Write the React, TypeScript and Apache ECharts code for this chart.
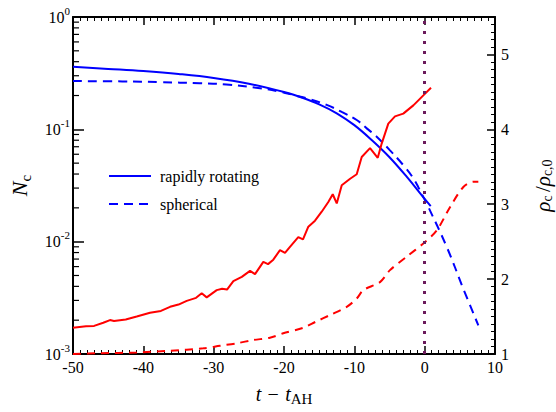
import React, { useEffect, useRef } from "react";
import * as echarts from "echarts";

// N_c (left, log axis) — [t - t_AH, N_c]
const rapidNc: [number, number][] = [
  [-50, 0.36], [-45, 0.345], [-40, 0.33], [-35, 0.311], [-30, 0.287],
  [-25, 0.255], [-20, 0.215], [-17.5, 0.192], [-15, 0.167], [-12.5, 0.139],
  [-10, 0.109], [-7.5, 0.08], [-5, 0.0565], [-2.5, 0.0375], [0, 0.024], [0.86, 0.0207],
];
const sphericalNc: [number, number][] = [
  [-50, 0.269], [-43, 0.267], [-37.6, 0.263], [-32, 0.257], [-28.2, 0.251],
  [-23.4, 0.232], [-20.5, 0.216], [-18.68, 0.202], [-16.3, 0.185], [-13.93, 0.165],
  [-11.8, 0.143], [-9.66, 0.121], [-8.24, 0.102], [-6.82, 0.086], [-4.93, 0.065],
  [-3.04, 0.048], [-1.61, 0.0366], [-0.19, 0.025], [0.28, 0.0219], [3.13, 0.009],
  [5.5, 0.0038], [7.63, 0.0018],
];

// rho_c / rho_c,0 (right, linear axis)
const rapidRho: [number, number][] = [
  [-50, 1.35], [-48.15, 1.37], [-47, 1.375], [-45.7, 1.417], [-44.74, 1.453],
  [-44.17, 1.44], [-42.5, 1.46], [-40.94, 1.5], [-39.05, 1.55], [-37.5, 1.575],
  [-36.2, 1.63], [-35, 1.66], [-33.83, 1.71], [-32.5, 1.75], [-31.7, 1.81],
  [-30.99, 1.756], [-29.57, 1.853], [-28.8, 1.87], [-28.1, 1.86], [-27.2, 1.973],
  [-26, 2.03], [-24.83, 2.11], [-24.12, 2.067], [-22.94, 2.23], [-22.27, 2.2],
  [-21.52, 2.26], [-20.57, 2.387], [-19.86, 2.35], [-19.15, 2.43], [-17.97, 2.56],
  [-17.3, 2.53], [-16.54, 2.7], [-15.59, 2.78], [-14.64, 2.9], [-13.7, 3.03],
  [-13.07, 3.133], [-12.5, 3.01], [-11.79, 3.253], [-10.6, 3.34], [-9.66, 3.4],
  [-8.95, 3.63], [-7.77, 3.75], [-6.67, 3.62], [-6.11, 3.81], [-5.17, 4.076],
  [-4.22, 4.173], [-3.04, 4.21], [-1.61, 4.32], [-0.19, 4.453], [0.9, 4.556],
];
const sphericalRho: [number, number][] = [
  [-50, 1.0], [-46.2, 1.01], [-40.94, 1.02], [-36.2, 1.044], [-31.47, 1.076],
  [-29.1, 1.11], [-26.72, 1.143], [-24.36, 1.187], [-22.0, 1.217], [-20.1, 1.276],
  [-17.25, 1.35], [-15.5, 1.43], [-13.46, 1.52], [-11.08, 1.63], [-9.66, 1.74],
  [-8.72, 1.853], [-6.35, 1.96], [-4.93, 2.12], [-2.55, 2.3], [-0.19, 2.476],
  [1.71, 2.65], [3.6, 2.96], [5.5, 3.23], [6.92, 3.3], [7.63, 3.3],
];

const xRange = [-50, 10];
const ncRange = [0.001, 1];
const rhoRange = [1, 5.5];
const decades = [0.001, 0.01, 0.1];
const minorMultipliers = [2, 3, 4, 5, 6, 7, 8, 9];

const FONT = "'Liberation Serif', 'Times New Roman', serif";
const BLUE = "#0000ff";
const RED = "#ff0000";

export default function App() {
  const ref = useRef<HTMLDivElement>(null);
  useEffect(() => {
    if (!ref.current) return;
    const chart = echarts.init(ref.current, undefined, { renderer: "svg" });
    const minorLog: [number, number][] = [];
    decades.forEach((d) => minorMultipliers.forEach((m) => minorLog.push([xRange[0], d * m])));

    const xAxisBase = {
      type: "value",
      min: xRange[0],
      max: xRange[1],
      interval: 10,
      splitLine: { show: false },
      axisLine: { show: true, onZero: false, lineStyle: { color: "#000", width: 2 } },
      axisTick: { show: true, inside: true, length: 8, lineStyle: { color: "#000", width: 1.5 } },
      minorTick: { show: true, splitNumber: 10, length: 4, lineStyle: { color: "#000", width: 1 } },
    };

    chart.setOption({
      animation: false,
      backgroundColor: "#fff",
      grid: { left: 73, right: 61, top: 17, bottom: 58, containLabel: false, outerBoundsMode: "none" },
      legend: {
        data: ["rapidly rotating", "spherical"],
        orient: "vertical",
        left: 108,
        top: 168,
        padding: 0,
        itemWidth: 42,
        itemHeight: 14,
        itemGap: 12,
        itemStyle: { opacity: 0 },
        textStyle: { fontSize: 16, fontFamily: FONT, color: "#000", padding: [0, 0, 0, 4] },
      },
      xAxis: [
        {
          ...xAxisBase,
          position: "bottom",
          axisLabel: { fontSize: 16, fontFamily: FONT, color: "#000", margin: 5 },
          name: "{i|t} {n|\u2212} {i|t}{s|AH}",
          nameLocation: "middle",
          nameGap: 27,
          nameTextStyle: {
            rich: {
              i: { fontSize: 20, fontStyle: "italic", fontFamily: FONT, color: "#000" },
              n: { fontSize: 20, fontFamily: FONT, color: "#000", padding: [0, 3, 0, 3] },
              s: { fontSize: 15, fontFamily: FONT, color: "#000", padding: [10, 0, 0, 0] },
            },
          },
        },
        { ...xAxisBase, position: "top", axisLabel: { show: false } },
      ],
      yAxis: [
        {
          type: "log",
          logBase: 10,
          min: ncRange[0],
          max: ncRange[1],
          position: "left",
          splitLine: { show: false },
          axisLine: { show: true, onZero: false, lineStyle: { color: "#000", width: 2 } },
          axisTick: { show: true, inside: true, length: 11, lineStyle: { color: "#000", width: 1.5 } },
          axisLabel: {
            margin: 3,
            formatter: (v: number) => `{b|10}{s|${Math.round(Math.log10(v))}}`,
            rich: {
              b: { fontSize: 16, fontFamily: FONT, color: "#000" },
              s: { fontSize: 11, fontFamily: FONT, color: "#000", padding: [0, 0, 13, 0] },
            },
          },
          name: "{i|N}{s|c}",
          nameLocation: "middle",
          nameRotate: 90,
          nameGap: 40,
          nameTextStyle: {
            rich: {
              i: { fontSize: 22, fontStyle: "italic", fontFamily: FONT, color: "#000" },
              s: { fontSize: 15, fontFamily: FONT, color: "#000", padding: [12, 0, 0, 0] },
            },
          },
        },
        {
          type: "value",
          min: rhoRange[0],
          max: rhoRange[1],
          interval: 1,
          position: "right",
          splitLine: { show: false },
          axisLine: { show: true, onZero: false, lineStyle: { color: "#000", width: 2 } },
          axisTick: { show: true, inside: true, length: 8, lineStyle: { color: "#000", width: 1.5 } },
          minorTick: { show: true, splitNumber: 10, length: 4, lineStyle: { color: "#000", width: 1 } },
          axisLabel: {
            margin: 6,
            fontSize: 16,
            fontFamily: FONT,
            color: "#000",
            showMaxLabel: false,
            formatter: (v: number) => (Number.isInteger(v) ? String(v) : ""),
          },
          name: "{i|\u03c1}{s|c} {n|/}{i|\u03c1}{s|c,0}",
          nameLocation: "middle",
          nameRotate: 90,
          nameGap: 37,
          nameTextStyle: {
            rich: {
              i: { fontSize: 21, fontStyle: "italic", fontFamily: FONT, color: "#000" },
              n: { fontSize: 21, fontFamily: FONT, color: "#000" },
              s: { fontSize: 14, fontFamily: FONT, color: "#000", padding: [8, 0, 0, 0] },
            },
          },
        },
      ],
      series: [
        {
          name: "rapidly rotating",
          type: "line",
          xAxisIndex: 0,
          yAxisIndex: 0,
          data: rapidNc,
          smooth: 0.4,
          symbol: "none",
          showSymbol: false,
          lineStyle: { color: BLUE, width: 2 },
          itemStyle: { color: BLUE },
          markLine: {
            silent: true,
            symbol: "none",
            label: { show: false },
            lineStyle: { color: "#6b1a5c", width: 3, type: [3, 7], cap: "butt" },
            data: [{ xAxis: 0 }],
          },
        },
        {
          name: "spherical",
          type: "line",
          xAxisIndex: 0,
          yAxisIndex: 0,
          data: sphericalNc,
          smooth: 0.4,
          symbol: "none",
          showSymbol: false,
          lineStyle: { color: BLUE, width: 2, type: [9, 6] },
          itemStyle: { color: BLUE },
        },
        {
          name: "rho rapidly rotating",
          type: "line",
          xAxisIndex: 0,
          yAxisIndex: 1,
          data: rapidRho,
          symbol: "none",
          showSymbol: false,
          lineStyle: { color: RED, width: 2 },
        },
        {
          name: "rho spherical",
          type: "line",
          xAxisIndex: 0,
          yAxisIndex: 1,
          data: sphericalRho,
          symbol: "none",
          showSymbol: false,
          smooth: 0.3,
          lineStyle: { color: RED, width: 2, type: [8, 6] },
        },
        {
          name: "log minor ticks",
          type: "custom",
          xAxisIndex: 0,
          yAxisIndex: 0,
          silent: true,
          clip: false,
          data: minorLog,
          renderItem: (_p: any, api: any) => {
            const pt = api.coord([api.value(0), api.value(1)]);
            return {
              type: "line",
              shape: { x1: pt[0], y1: pt[1], x2: pt[0] + 6, y2: pt[1] },
              style: { stroke: "#000", lineWidth: 1.2 },
            };
          },
        },
      ],
    });
    return () => chart.dispose();
  }, []);
  return (
    <div
      ref={ref}
      style={{ position: "absolute", left: 0, top: 0, width: 556, height: 412 }}
    />
  );
}
